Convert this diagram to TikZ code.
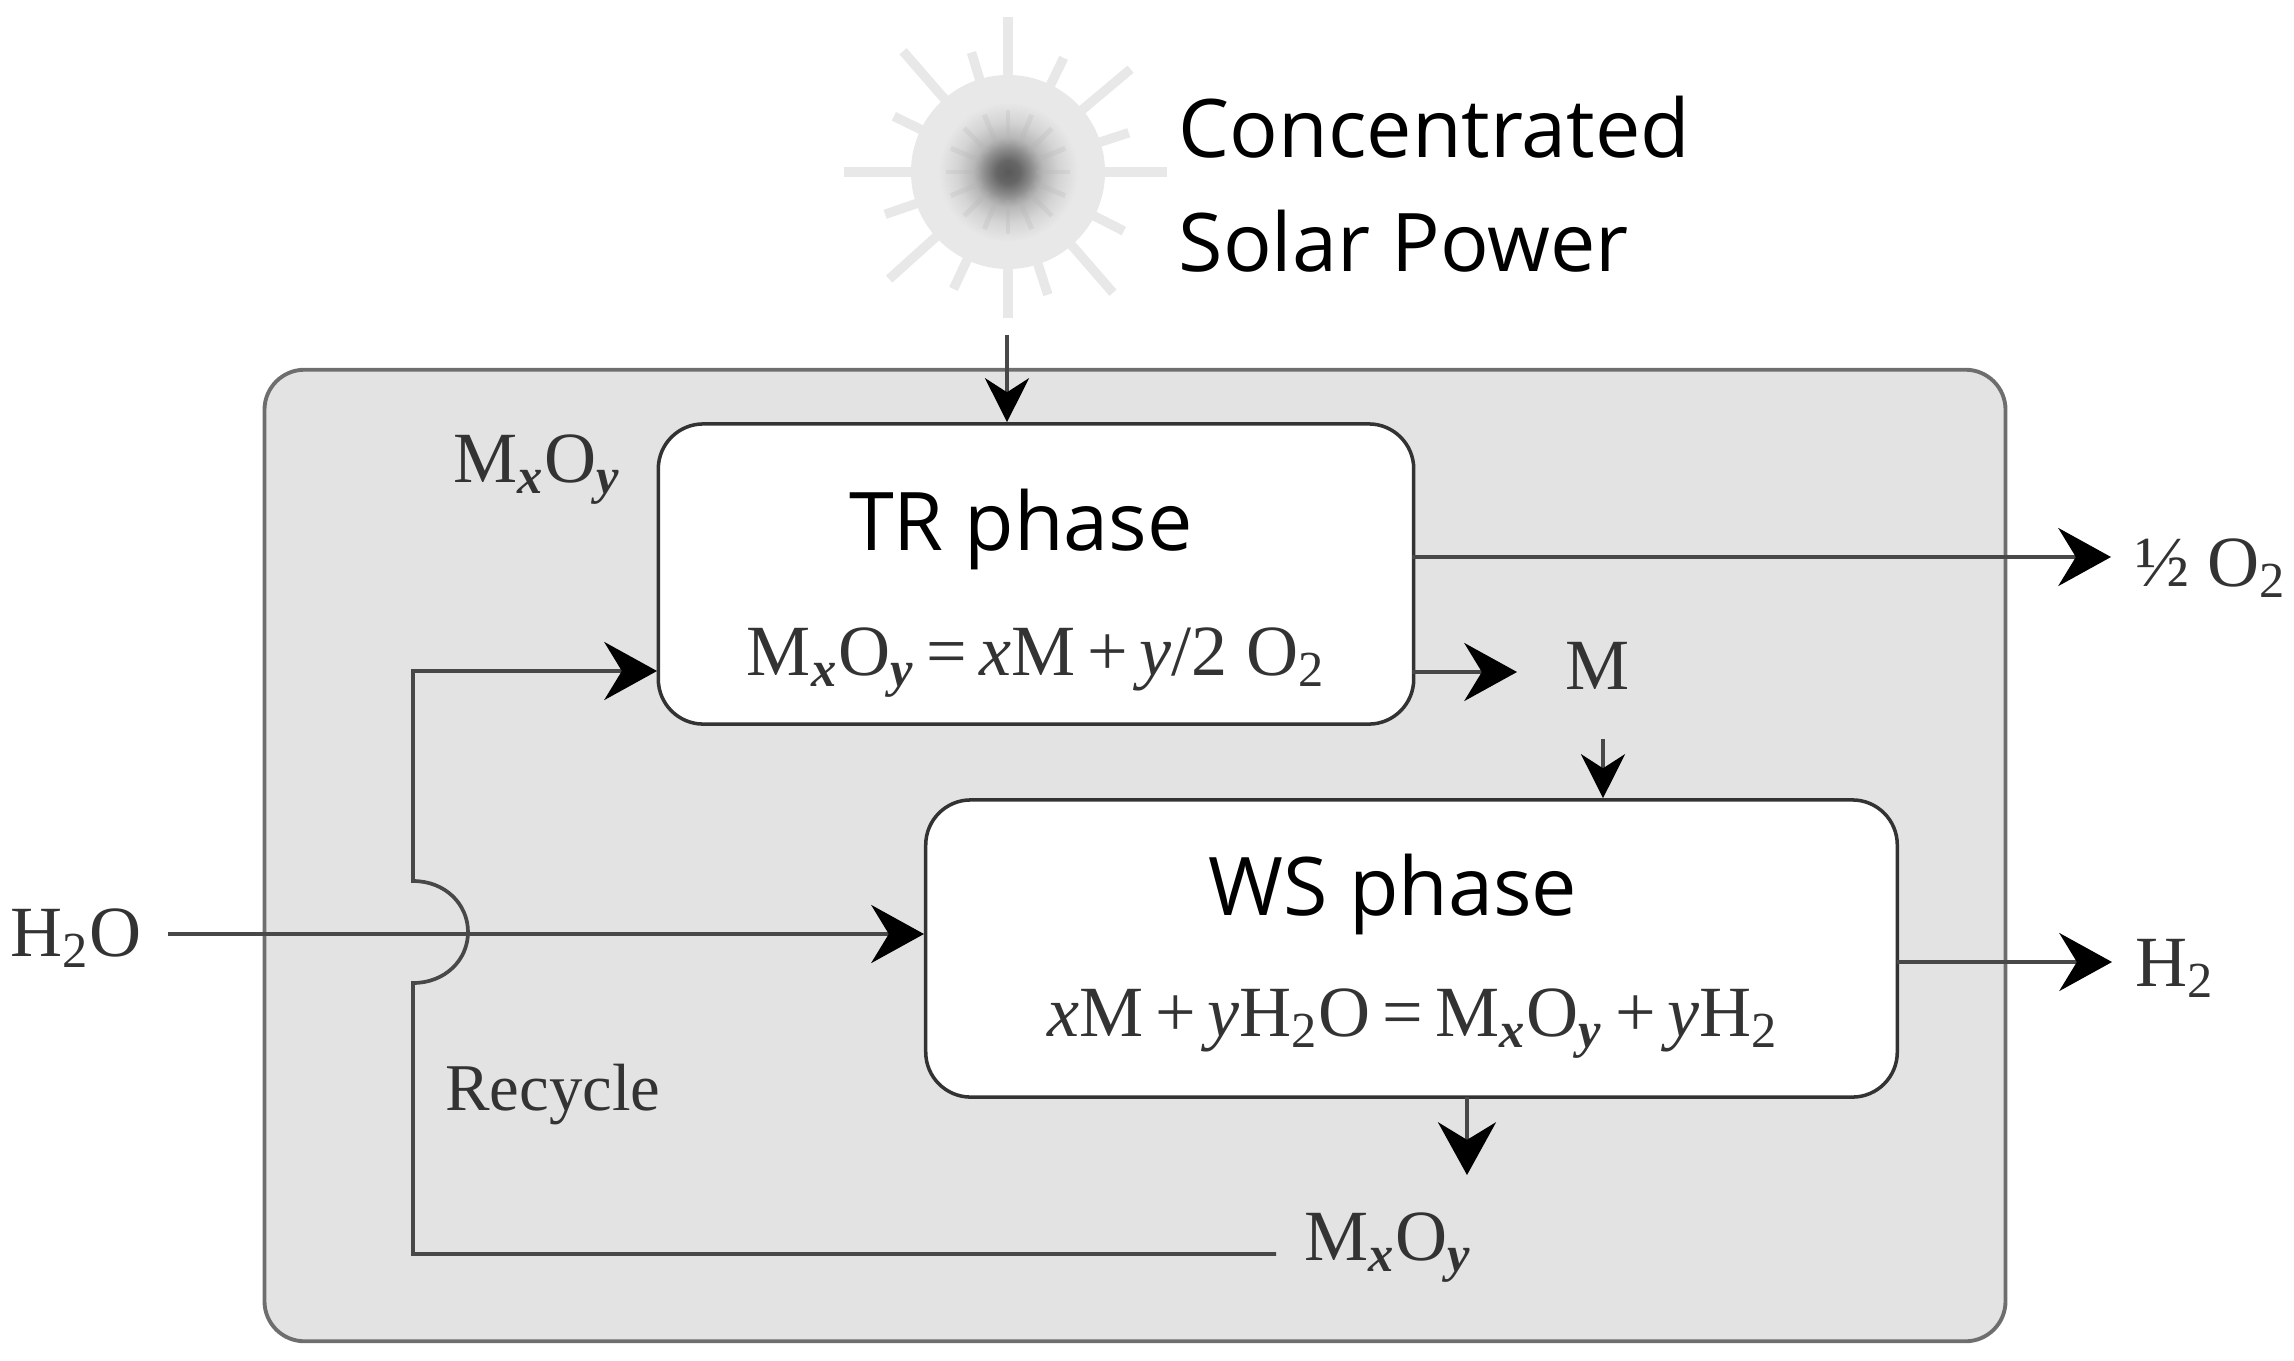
\documentclass[tikz,border=0pt]{standalone}
\usepackage{fontspec}
\setmainfont{Liberation Serif}
\newfontfamily\boxfont{Open Sans}
\usetikzlibrary{arrows.meta}
\definecolor{PanelGray}{HTML}{E3E3E3}
\definecolor{LineGray}{HTML}{484848}
\definecolor{EdgeGray}{HTML}{6E6E6E}
\definecolor{RayGray}{HTML}{E8E8E8}
\definecolor{InkGray}{HTML}{333333}
\pgfdeclareradialshading{sunglow}{\pgfpointorigin}{%
  color(0bp)=(black!65);color(3bp)=(black!60);color(6bp)=(black!45);
  color(9bp)=(black!28);color(13bp)=(black!17);color(18bp)=(RayGray);color(50bp)=(RayGray)}
\newcommand{\MO}{M\textsubscript{\textbf{\textit{x}}}O\textsubscript{\textbf{\textit{y}}}}
\tikzset{
  flow/.style={LineGray,line width=1.05pt,-{Stealth[color=black,length=15pt,width=16.5pt,inset=5pt]}},
  flowsmall/.style={LineGray,line width=1.05pt,-{Stealth[color=black,length=12.5pt,width=12.5pt,inset=4pt]}},
  phasebox/.style={draw=black!80,line width=1pt,fill=white,rounded corners=0.45cm,inner sep=0pt},
  serif/.style={text=InkGray,font=\fontsize{20.5}{25}\selectfont,inner sep=0pt},
  eqn/.style={text=InkGray,font=\fontsize{20.5}{25}\selectfont,inner sep=0pt},
  title/.style={text=black,font=\boxfont\fontsize{23}{28}\selectfont,inner sep=0pt},
  sunray/.style={RayGray,line width=2.7pt}
}
\begin{document}
\begin{tikzpicture}[x=0.01cm,y=-0.01cm]
\useasboundingbox (0,0) rectangle (2294,1360);
\node[draw=EdgeGray,line width=1.1pt,fill=PanelGray,rounded corners=0.4cm,minimum width=17.4cm,minimum height=9.71cm,inner sep=0pt] (panel) at (1135,855.5) {};
% sun
\node[circle,minimum size=1.94cm,inner sep=0pt,shading=sunglow] (sun) at (1008,172) {};
\foreach \ang in {0,22.5,...,337.5}
  \draw[black!30,line width=1.4pt,opacity=0.22] ([shift={(\ang:28)}]sun.center) -- ([shift={(\ang:62)}]sun.center);
\foreach \ang/\len in {0/159,90/155,180/164,270/146,40/160,131/160,222/160,311/160,
  18/127,64/127,107/125,154/127,199/130,245/129,288/129,333/130}
  \draw[sunray] ([shift={(-\ang:94)}]sun.center) -- ([shift={(-\ang:\len)}]sun.center);
\node[title,anchor=west] (csp) at (1178,127) {Concentrated};
\node[title,anchor=west] (solar) at (1178,241) {Solar Power};
% phases
\node[phasebox,minimum width=7.55cm,minimum height=3cm] (tr) at (1036,574) {};
\node[phasebox,minimum width=9.71cm,minimum height=2.97cm] (ws) at (1411.5,948.5) {};
\node[title] (trname) at (1021,529) {TR phase};
\node[eqn] (treq) at (1036,663) {\MO\,=\,\textit{x}M\,+\,\textit{y}/2 O\textsubscript{2}};
\node[title] (wsname) at (1393,894) {WS phase};
\node[eqn] (wseq) at (1413,1024) {\textit{x}M\,+\,\textit{y}H\textsubscript{2}O\,=\,\MO\,+\,\textit{y}H\textsubscript{2}};
% labels
\node[serif] (oxtop) at (537,470) {\MO};
\node[serif] (oxbot) at (1388,1248) {\MO};
\node[serif] (half) at (2211,568) {½ O\textsubscript{2}};
\node[serif] (metal) at (1598,666) {M};
\node[serif] (hyd) at (2175,968) {H\textsubscript{2}};
\node[serif] (water) at (76,938) {H\textsubscript{2}O};
\node[serif,font=\fontsize{19}{23}\selectfont] (recycle) at (553,1095) {Recycle};
% connectors
\coordinate (solarin) at (1007,335);
\coordinate (o2out) at (1412,557);
\coordinate (mout) at (1412,672);
\coordinate (mtop) at (1603,739);
\coordinate (h2out) at (1897,962);
\coordinate (wsdown) at (1467,1097);
\coordinate (waterin) at (168,934);
\coordinate (loopin) at (657,671);
\coordinate (loopend) at (1276,1254);
\draw[flowsmall] (solarin) -- (solarin |- tr.north);
\draw[flow] (o2out) -- +(699,0);
\draw[flow] (mout) -- +(105,0);
\draw[flowsmall] (mtop) -- (mtop |- ws.north);
\draw[flow] (h2out) -- +(215,0);
\draw[flow] (wsdown) -- +(0,78);
\draw[flow] (waterin) -- (waterin -| ws.west);
\draw[flow] (loopend) -- (413,1254) -- (413,983)
  .. controls (445,983) and (468,960) .. (468,932)
  .. controls (468,904) and (445,881) .. (413,881)
  -- (413,671) -- (loopin);
\end{tikzpicture}
\end{document}
